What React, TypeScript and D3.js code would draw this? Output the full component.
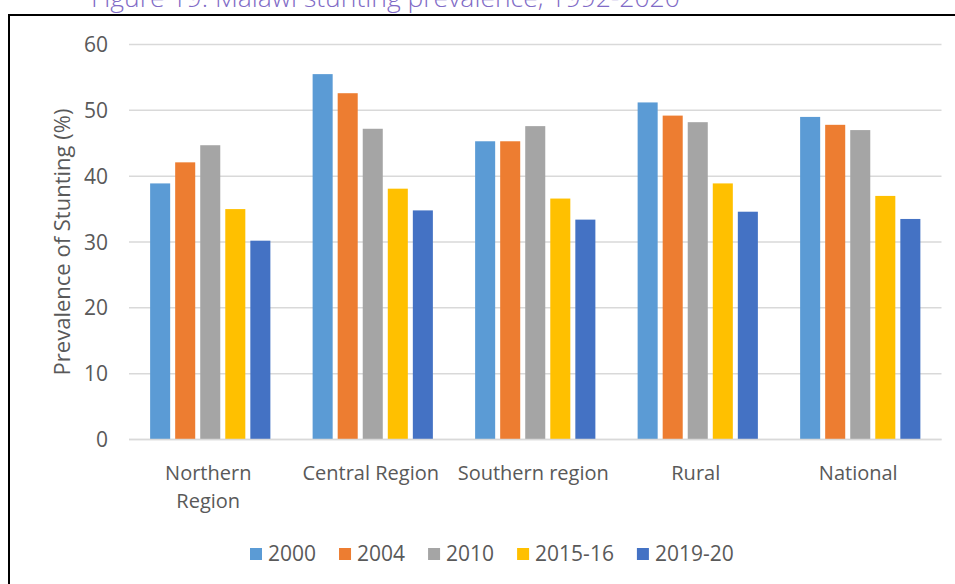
import React, { useEffect, useRef } from 'react';
import * as d3 from 'd3';

// Categories and their (wrapped) tick labels
const categories = ['Northern Region', 'Central Region', 'Southern region', 'Rural', 'National'];
const tickLines = [['Northern', 'Region'], ['Central Region'], ['Southern region'], ['Rural'], ['National']];

// Survey rounds
const seriesNames = ['2000', '2004', '2010', '2015-16', '2019-20'];
const seriesColors = ['#5b9bd5', '#ed7d31', '#a5a5a5', '#ffc000', '#4472c4'];

// Prevalence of stunting (%) per category
const values2000 = [38.9, 55.5, 45.3, 51.2, 49.0];
const values2004 = [42.1, 52.6, 45.3, 49.2, 47.8];
const values2010 = [44.7, 47.2, 47.6, 48.2, 47.0];
const values2015 = [35.0, 38.1, 36.6, 38.9, 37.0];
const values2019 = [30.2, 34.8, 33.4, 34.6, 33.5];

const yTicks = [0, 10, 20, 30, 40, 50, 60];

const FONT = "'Open Sans', 'DejaVu Sans', sans-serif";
const TEXT_COLOR = '#595959';

const App = () => {
    const svgRef = useRef<SVGSVGElement | null>(null);

    useEffect(() => {
        const svg = d3.select(svgRef.current);
        svg.selectAll('*').remove();

        const width = 955;
        const height = 584;
        const plot = { left: 129, right: 941.5, top: 44.5, bottom: 439.5 };

        svg.attr('width', width).attr('height', height);

        const allSeries = [values2000, values2004, values2010, values2015, values2019];
        const rows = categories.map((c, i) => ({
            category: c,
            values: seriesNames.map((s, j) => ({ series: s, value: allSeries[j][i] })),
        }));

        // Scales
        const x0 = d3.scaleBand<string>()
            .domain(categories)
            .range([plot.left, plot.right])
            .paddingInner(0.26)
            .paddingOuter(0.13);

        const x1 = d3.scaleBand<string>()
            .domain(seriesNames)
            .range([0, x0.bandwidth()])
            .paddingInner(0.2)
            .paddingOuter(0);

        const y = d3.scaleLinear().domain([0, 60]).range([plot.bottom, plot.top]);

        const color = d3.scaleOrdinal<string, string>().domain(seriesNames).range(seriesColors);

        // Title (partly cut by the top edge, as in the source page)
        svg.append('text')
            .attr('x', 91)
            .attr('y', 7)
            .text('Figure 19: Malawi stunting prevalence, 1992-2020')
            .style('font-family', FONT)
            .style('font-weight', 300)
            .style('font-size', '26.5px')
            .style('fill', '#7f6bc6');

        // Chart frame
        svg.append('rect')
            .attr('x', 9)
            .attr('y', 15)
            .attr('width', 1000)
            .attr('height', 700)
            .attr('fill', 'none')
            .attr('stroke', '#000')
            .attr('stroke-width', 2);

        // Gridlines
        svg.append('g')
            .selectAll('line')
            .data(yTicks)
            .enter()
            .append('line')
            .attr('x1', plot.left)
            .attr('x2', plot.right)
            .attr('y1', d => y(d))
            .attr('y2', d => y(d))
            .attr('stroke', '#d9d9d9')
            .attr('stroke-width', 1.5);

        // Y tick labels
        svg.append('g')
            .selectAll('text')
            .data(yTicks)
            .enter()
            .append('text')
            .attr('x', 108)
            .attr('y', d => y(d))
            .attr('dy', '0.36em')
            .attr('text-anchor', 'end')
            .text(d => d)
            .style('font-family', FONT)
            .style('font-size', '21px')
            .style('fill', TEXT_COLOR);

        // Y axis title
        svg.append('text')
            .attr('transform', `translate(70,${(plot.top + plot.bottom) / 2}) rotate(-90)`)
            .attr('text-anchor', 'middle')
            .text('Prevalence of Stunting (%)')
            .style('font-family', FONT)
            .style('font-size', '22px')
            .style('fill', TEXT_COLOR);

        // Bars
        const groups = svg.append('g')
            .selectAll('g')
            .data(rows)
            .enter()
            .append('g')
            .attr('transform', d => `translate(${x0(d.category)},0)`);

        groups.selectAll('rect')
            .data(d => d.values)
            .enter()
            .append('rect')
            .attr('x', d => x1(d.series) as number)
            .attr('y', d => y(d.value))
            .attr('width', x1.bandwidth())
            .attr('height', d => plot.bottom - y(d.value))
            .attr('fill', d => color(d.series));

        // Baseline redrawn on top
        svg.append('line')
            .attr('x1', plot.left)
            .attr('x2', plot.right)
            .attr('y1', plot.bottom)
            .attr('y2', plot.bottom)
            .attr('stroke', '#d9d9d9')
            .attr('stroke-width', 1.5);

        // X tick labels
        const xLabels = svg.append('g')
            .selectAll('text')
            .data(categories)
            .enter()
            .append('text')
            .attr('x', d => (x0(d) as number) + x0.bandwidth() / 2 - 2)
            .attr('y', 480)
            .attr('text-anchor', 'middle')
            .style('font-family', FONT)
            .style('font-size', '20px')
            .style('fill', TEXT_COLOR);

        xLabels.each(function (d, i) {
            const t = d3.select(this);
            tickLines[i].forEach((line, k) => {
                t.append('tspan')
                    .attr('x', (x0(d) as number) + x0.bandwidth() / 2 - 2)
                    .attr('dy', k === 0 ? 0 : 28)
                    .text(line);
            });
        });

        // Legend
        const legend = svg.append('g').attr('transform', 'translate(250,0)');
        let offset = 0;
        seriesNames.forEach(name => {
            const item = legend.append('g').attr('transform', `translate(${offset},0)`);
            item.append('rect')
                .attr('x', 0)
                .attr('y', 548)
                .attr('width', 12)
                .attr('height', 12)
                .attr('fill', color(name));
            const label = item.append('text')
                .attr('x', 18)
                .attr('y', 561)
                .text(name)
                .style('font-family', FONT)
                .style('font-size', '21px')
                .style('fill', TEXT_COLOR);
            const w = (label.node() as SVGTextElement).getComputedTextLength();
            offset += 18 + w + 23;
        });
    }, []);

    return (
        <svg ref={svgRef} style={{ position: 'absolute', left: 0, top: 0 }}></svg>
    );
};

export default App;
